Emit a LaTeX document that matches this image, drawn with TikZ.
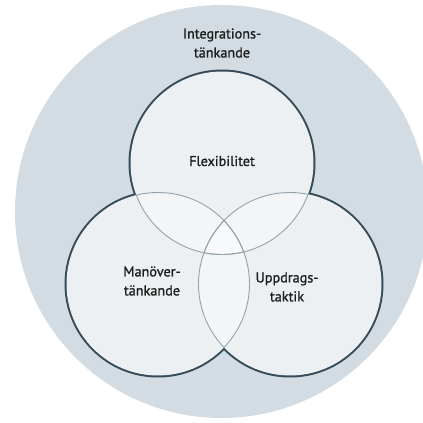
\documentclass[tikz,border=0pt]{standalone}
\usepackage{fontspec}
\setmainfont{PT Sans}
\newfontfamily\lblfont{PT Sans}[RawFeature={embolden=1.2}]
\definecolor{bgout}{HTML}{D3DCE2}
\definecolor{cone}{HTML}{ECF0F3}
\definecolor{ctwo}{HTML}{F3F5F7}
\definecolor{cthree}{HTML}{F8F9FA}
\definecolor{edge}{HTML}{364B59}
\definecolor{inner}{HTML}{96A3AB}
\definecolor{txt}{HTML}{1E1E1E}
\begin{document}
\begin{tikzpicture}[x=1pt,y=-1pt,
  lbl/.style={font=\lblfont\fontsize{14.2}{19}\selectfont, text=txt, align=center, inner sep=0pt},
  thickedge/.style={draw=edge, line width=4pt},
  thinedge/.style={draw=inner, line width=0.9pt}]
\useasboundingbox (0,0) rectangle (423,423);
\def\R{91.5}
\coordinate (O) at (221.5,211.5);
\coordinate (T) at (222,163);
\coordinate (L) at (158,284);
\coordinate (Rt) at (290,284);
% outer circle
\fill[bgout] (O) circle (206.5);
% thick outer boundary (outer half remains visible)
\foreach \c in {T,L,Rt} \draw[thickedge] (\c) circle (\R);
\foreach \c in {T,L,Rt} \fill[cone] (\c) circle (\R);
% pairwise overlaps
\begin{scope}\clip (T) circle (\R); \fill[ctwo] (L) circle (\R); \fill[ctwo] (Rt) circle (\R); \end{scope}
\begin{scope}\clip (L) circle (\R); \fill[ctwo] (Rt) circle (\R); \end{scope}
% triple overlap
\begin{scope}\clip (T) circle (\R); \clip (L) circle (\R); \fill[cthree] (Rt) circle (\R); \end{scope}
% thin interior arcs
\begin{scope}\clip (T) circle (\R); \draw[thinedge] (L) circle (\R); \draw[thinedge] (Rt) circle (\R); \end{scope}
\begin{scope}\clip (L) circle (\R); \draw[thinedge] (T) circle (\R); \draw[thinedge] (Rt) circle (\R); \end{scope}
\begin{scope}\clip (Rt) circle (\R); \draw[thinedge] (T) circle (\R); \draw[thinedge] (L) circle (\R); \end{scope}
% labels
\node[lbl] (integ) at (222,43) {Integrations-\\tänkande};
\node[lbl] (flex) at (222,161) {Flexibilitet};
\node[lbl] (manov) at (152,281) {Manöver-\\tänkande};
\node[lbl] (uppd) at (287,287) {Uppdrags-\\taktik};
\end{tikzpicture}
\end{document}
